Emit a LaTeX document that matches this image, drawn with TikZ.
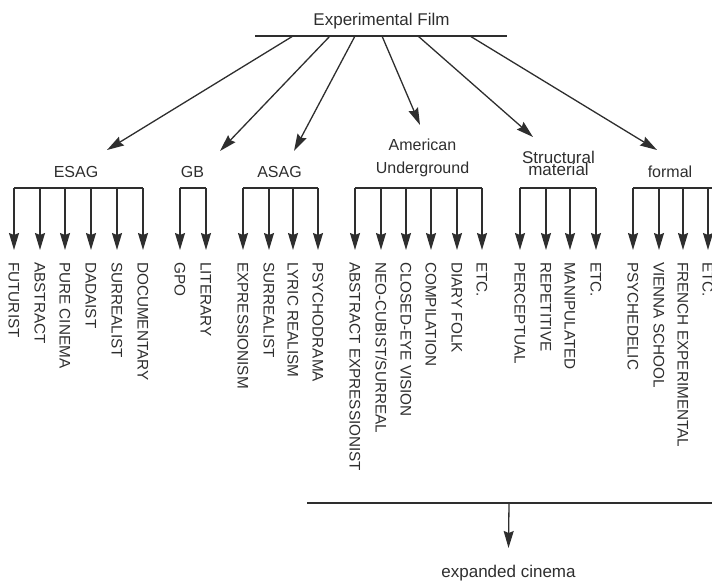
\documentclass[tikz,border=0pt]{standalone}
\usepackage{fontspec}
\setmainfont{Liberation Sans}
\usetikzlibrary{arrows.meta}
\definecolor{ink}{HTML}{2E2E2E}
\begin{document}
\begin{tikzpicture}[x=1pt,y=-1pt,
  line/.style={draw=ink,line width=1.3pt},
  arr/.style={line,-{Stealth[length=17pt,width=10pt,inset=2pt]}},
  lbl/.style={rotate=-90,anchor=west,inner sep=0pt,text=ink,
    font=\fontsize{15.3}{15}\selectfont,text height=10.9pt,text depth=0pt},
  grp/.style={text=ink,align=center,inner sep=0pt,
    font=\fontsize{16}{16}\selectfont},
  ttl/.style={text=ink,inner sep=0pt,font=\fontsize{17}{17}\selectfont}]
\useasboundingbox (0,0) rectangle (712,584);
\clip (0,0) rectangle (712,584);

% root and its bar
\node[ttl,anchor=base] (root) at (381.5,25) {Experimental Film};
\coordinate (barL) at (255,36);
\coordinate (barR) at (507,36);
\draw[line] (barL) -- (barR);

% second-level headings
\node[grp,anchor=base] (esag) at (76,177) {ESAG};
\node[grp,anchor=base] (gb) at (192.5,177) {GB};
\node[grp,anchor=base] (asag) at (279.5,177) {ASAG};
\node[grp,font={\fontsize{16}{23}\selectfont}] (au) at (422.5,157.5) {American\\Underground};
\node[grp,font={\fontsize{17}{12.5}\selectfont\lineskiplimit=-20pt}] (sm) at (558.5,163.5) {Structural\\material};
\node[grp,anchor=base] (formal) at (670,177) {formal};

% arrows from the root bar to the headings
\foreach \sx/\tx/\ty/\n in {293/107/150/a, 330/220/151/b, 355/294/151/c,
                            382/420/125/d, 418/533/137/e, 470/657/150/f}{
  \coordinate (s\n) at (\sx,36);
  \coordinate (t\n) at (\tx,\ty);
  \draw[arr] (s\n) -- (t\n);
}

% leaf columns: bracket bar, arrows and vertical labels
\newcommand{\leafgroup}[3]{% prefix, bar ends, list of x/label
  \draw[line] #2;
  \foreach \x/\t [count=\i] in {#3}{
    \coordinate (#1b\i) at (\x,188);
    \node[lbl] (#1l\i) at (\x,262) {\t};
    \draw[arr,shorten >=12pt] (#1b\i) -- (#1l\i.west);
  }
}
\leafgroup{es}{(14,188) -- (143,188)}{14/FUTURIST, 40/ABSTRACT, 65/PURE CINEMA,
  91/DADAIST, 117/SURREALIST, 143/DOCUMENTARY}
\leafgroup{gb}{(180,188) -- (206,188)}{180/GPO, 206/LITERARY}
\leafgroup{as}{(243,188) -- (318,188)}{243/EXPRESSIONISM, 269/SURREALIST,
  293/LYRIC REALISM, 318/PSYCHODRAMA}
\leafgroup{au}{(355,188) -- (482,188)}{355/ABSTRACT EXPRESSIONIST,
  381/{NEO-CUBIST/SURREAL}, 406/CLOSED-EYE VISION, 431/COMPILATION,
  457/DIARY FOLK, 482/ETC.}
\leafgroup{sm}{(520,188) -- (596,188)}{520/PERCEPTUAL, 546/REPETITIVE,
  570/MANIPULATED, 596/ETC.}
\leafgroup{fo}{(633,188) -- (720,188)}{633/PSYCHEDELIC, 659/VIENNA SCHOOL,
  683/FRENCH EXPERIMENTAL, 708/ETC.}

% merge bar and the final outcome
\coordinate (mL) at (307,503);
\coordinate (mR) at (720,503);
\coordinate (mD) at (509,503);
\draw[line] (mL) -- (mR);
\node[ttl,anchor=base] (exp) at (508.5,577) {expanded cinema};
\draw[arr] (mD) -- (exp.north |- 0,548);
\end{tikzpicture}
\end{document}
